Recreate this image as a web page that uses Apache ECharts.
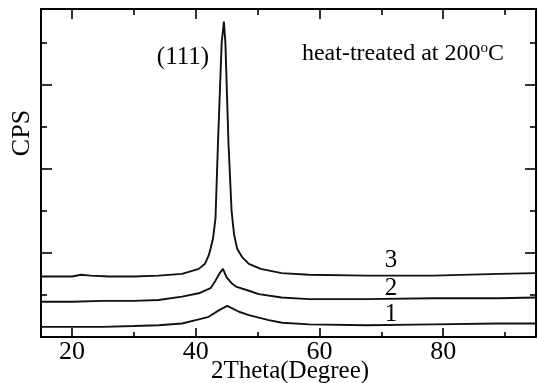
<!DOCTYPE html>
<html>
<head>
<meta charset="utf-8">
<script src="https://cdn.jsdelivr.net/npm/echarts@6/dist/echarts.min.js"></script>
<style>
  html, body { margin: 0; padding: 0; background: #fff; }
  #chart { width: 538px; height: 383px; }
</style>
</head>
<body>
<div id="chart"></div>
<script>
// XRD patterns, heat-treated at 200 C (CPS in arbitrary units)
const theta3 = [15, 18, 20, 21.5, 23, 26, 30, 34, 37.8, 40.5, 41.5, 42.1, 42.4, 42.8, 43.2, 43.6, 43.9, 44.2, 44.56, 44.8, 45.05, 45.3, 45.8, 46.2, 46.7, 47.5, 48.6, 50.5, 53.9, 58.3, 67.6, 78.4, 89, 95];
const cps3   = [72, 72, 72, 74, 73, 72, 72, 73, 75, 81, 87, 97, 105, 117, 141, 230, 290, 350, 375, 350, 290, 230, 150, 122, 105, 95, 87, 81, 76, 74, 73, 73, 75, 76];

const theta2 = [15, 20, 25, 30, 34, 37.8, 40.5, 42.4, 43.2, 43.8, 44.4, 45.0, 45.8, 46.5, 48.6, 50.2, 53.9, 58.3, 67.6, 78.4, 89, 95];
const cps2   = [42, 42, 43, 43, 44, 48, 52, 58, 67, 75, 81, 71, 64, 60, 55, 51, 47, 45, 45, 46, 46, 47];

const theta1 = [15, 20, 25, 30, 34, 37.8, 40.5, 42.1, 43.8, 45.1, 47.0, 48.6, 51.8, 54, 58.3, 67.6, 78.4, 89, 95];
const cps1   = [12, 12, 12, 13, 14, 16, 21, 24, 32, 37, 30, 26, 20, 17, 15, 14, 15, 16, 16];

const xMajor = [20, 40, 60, 80];
const xMinor = [30, 50, 70, 90];
const yMajor = [100, 200, 300];
const yMinor = [50, 150, 250, 350];

const FONT = "'Liberation Serif', 'DejaVu Serif', serif";
const INK = '#000';
const box = { left: 41, right: 2, top: 9, bottom: 46, containLabel: false, outerBoundsMode: 'none' };

const pairs = (xs, ys) => xs.map((x, i) => [x, ys[i]]);

function xAx(grid, pos, ticks, len, showLine, showLabel) {
    return {
        type: 'value', gridIndex: grid, position: pos, min: 15, max: 95,
        axisLine: { show: showLine, onZero: false, lineStyle: { color: INK, width: 2 } },
        axisTick: { show: true, inside: true, length: len, customValues: ticks, lineStyle: { color: INK, width: 1.6 } },
        axisLabel: { show: showLabel, customValues: ticks, color: INK, fontFamily: FONT, fontSize: 26, margin: 2 },
        splitLine: { show: false }
    };
}
function yAx(grid, pos, ticks, len, showLine) {
    return {
        type: 'value', gridIndex: grid, position: pos, min: 0, max: 390,
        axisLine: { show: showLine, onZero: false, lineStyle: { color: INK, width: 2 } },
        axisTick: { show: true, inside: true, length: len, customValues: ticks, lineStyle: { color: INK, width: 1.6 } },
        axisLabel: { show: false },
        splitLine: { show: false }
    };
}

// grid 0: frame + long ticks, grid 1 (same box): short ticks
const xAxes = [
    xAx(0, 'bottom', xMajor, 9, true, true),
    xAx(0, 'top', xMajor, 10, true, false),
    xAx(1, 'bottom', xMinor, 5, false, false),
    xAx(1, 'top', xMinor, 6, false, false)
];

const yAxes = [
    yAx(0, 'left', yMajor, 11, true),
    yAx(0, 'right', yMajor, 11, true),
    yAx(1, 'left', yMinor, 6, false),
    yAx(1, 'right', yMinor, 6, false)
];

function line(name, data) {
    return {
        name: name, type: 'line', data: data, xAxisIndex: 0, yAxisIndex: 0,
        symbol: 'none', smooth: false,
        lineStyle: { color: '#111', width: 1.9 }
    };
}

const txt = (x, y, s, size) => ({
    type: 'text', x: x, y: y,
    style: { text: s, fill: INK, font: size + 'px ' + FONT, align: 'center', verticalAlign: 'middle' }
});

const option = {
    animation: false,
    backgroundColor: '#fff',
    grid: [box, box],
    xAxis: xAxes,
    yAxis: yAxes,
    series: [
        line('3', pairs(theta3, cps3)),
        line('2', pairs(theta2, cps2)),
        line('1', pairs(theta1, cps1))
    ],
    graphic: [
        txt(183, 57, '(111)', 25),
        {
            type: 'text', x: 403, y: 54,
            style: {
                text: 'heat-treated at 200{sup|o}C',
                fill: INK, font: '24px ' + FONT, align: 'center', verticalAlign: 'middle',
                rich: { sup: { fontSize: 15, fontFamily: FONT, fill: INK, padding: [0, 0, 12, 0] } }
            }
        },
        { type: 'text', x: 22, y: 133, rotation: Math.PI / 2,
          style: { text: 'CPS', fill: INK, font: '26px ' + FONT, align: 'center', verticalAlign: 'middle' } },
        txt(290, 371, '2Theta(Degree)', 25),
        txt(391, 260, '3', 25),
        txt(391, 288, '2', 25),
        txt(391, 314, '1', 25)
    ]
};

const chart = echarts.init(document.getElementById('chart'));
chart.setOption(option);
</script>
</body>
</html>
